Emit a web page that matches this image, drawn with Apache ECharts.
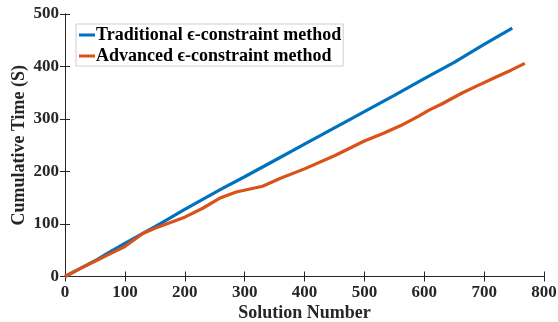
<!DOCTYPE html>
<html>
<head>
<meta charset="utf-8">
<script src="https://cdn.jsdelivr.net/npm/echarts@6/dist/echarts.min.js"></script>
<style>
  html, body { margin: 0; padding: 0; background: #fff; }
  #chart { width: 558px; height: 322px; }
</style>
</head>
<body>
<div id="chart"></div>
<script>
// Cumulative run time versus solution index for the two ε-constraint variants
const traditionalX = [0, 25, 50, 75, 100, 130, 160, 200, 230, 260, 300, 350, 400, 450, 500, 550, 600, 650, 700, 747];
const traditionalY = [0, 15, 30, 47, 63, 82, 101, 128, 147, 166, 190, 221, 252, 283, 314, 345, 377, 408, 442, 473];

const advancedX = [0, 25, 50, 75, 100, 130, 150, 200, 230, 258, 286, 330, 360, 400, 450, 500, 530, 560, 590, 608, 630, 664, 690, 720, 745, 768];
const advancedY = [0, 15, 29, 43, 57, 82, 92, 113, 130, 149, 161, 172, 187, 205, 230, 258, 272, 287, 305, 317, 329, 350, 364, 380, 393, 406];

const xTicks = { min: 0, max: 800, step: 100 };
const yTicks = { min: 0, max: 500, step: 100 };

const seriesNames = ['Traditional \u03F5-constraint method', 'Advanced \u03F5-constraint method'];
const seriesColors = ['#0072BD', '#D95319'];

const pairs = (xs, ys) => xs.map((x, i) => [x, ys[i]]);

const serif = '"Liberation Serif", "Times New Roman", "DejaVu Serif", serif';
const axisColor = '#262626';

const chart = echarts.init(document.getElementById('chart'), null, { renderer: 'canvas' });

const baseTickLabel = { color: axisColor, fontFamily: serif, fontWeight: 'bold', fontSize: 17 };

chart.setOption({
  animation: false,
  backgroundColor: '#ffffff',
  grid: { left: 65, right: 14, top: 14, bottom: 45.5, show: false, containLabel: false, outerBoundsMode: 'none' },
  legend: {
    data: seriesNames,
    left: 76, top: 24,
    orient: 'vertical',
    itemWidth: 16, itemHeight: 3, itemGap: 3,
    icon: 'rect',
    padding: [2, 2, 1, 3],
    borderColor: '#cfcfcf', borderWidth: 1,
    backgroundColor: '#ffffff',
    textStyle: { color: '#000', fontFamily: serif, fontWeight: 'bold', fontSize: 18, padding: [2, 0, 0, -4] }
  },
  xAxis: [
    {
      type: 'value', min: xTicks.min, max: xTicks.max, interval: xTicks.step,
      name: 'Solution Number', nameLocation: 'middle', nameGap: 28, nameMoveOverlap: false,
      nameTextStyle: { color: axisColor, fontFamily: serif, fontWeight: 'bold', fontSize: 18 },
      axisLine: { show: true, lineStyle: { color: axisColor, width: 1 } },
      axisTick: { show: true, inside: true, length: 5, lineStyle: { color: axisColor } },
      axisLabel: Object.assign({ margin: 8 }, baseTickLabel),
      splitLine: { show: false }
    },
    {
      type: 'value', position: 'top', min: xTicks.min, max: xTicks.max, interval: xTicks.step,
      axisLine: { show: true, lineStyle: { color: axisColor, width: 1 } },
      axisTick: { show: true, inside: true, length: 5, lineStyle: { color: axisColor } },
      axisLabel: { show: false }, splitLine: { show: false }
    }
  ],
  yAxis: [
    {
      type: 'value', min: yTicks.min, max: yTicks.max, interval: yTicks.step,
      name: 'Cumulative Time (S)', nameLocation: 'middle', nameGap: 37, nameMoveOverlap: false,
      nameTextStyle: { color: axisColor, fontFamily: serif, fontWeight: 'bold', fontSize: 18 },
      axisLine: { show: true, lineStyle: { color: axisColor, width: 1 } },
      axisTick: { show: true, inside: true, length: 5, lineStyle: { color: axisColor } },
      axisLabel: Object.assign({ margin: 6 }, baseTickLabel),
      splitLine: { show: false }
    },
    {
      type: 'value', position: 'right', min: yTicks.min, max: yTicks.max, interval: yTicks.step,
      axisLine: { show: true, lineStyle: { color: axisColor, width: 1 } },
      axisTick: { show: true, inside: true, length: 5, lineStyle: { color: axisColor } },
      axisLabel: { show: false }, splitLine: { show: false }
    }
  ],
  series: [
    {
      name: seriesNames[0], type: 'line', xAxisIndex: 0, yAxisIndex: 0,
      data: pairs(traditionalX, traditionalY),
      showSymbol: false, symbol: 'none',
      lineStyle: { color: seriesColors[0], width: 3.2 },
      itemStyle: { color: seriesColors[0] }
    },
    {
      name: seriesNames[1], type: 'line', xAxisIndex: 0, yAxisIndex: 0,
      data: pairs(advancedX, advancedY),
      showSymbol: false, symbol: 'none',
      lineStyle: { color: seriesColors[1], width: 3.2 },
      itemStyle: { color: seriesColors[1] }
    }
  ]
});
</script>
</body>
</html>
